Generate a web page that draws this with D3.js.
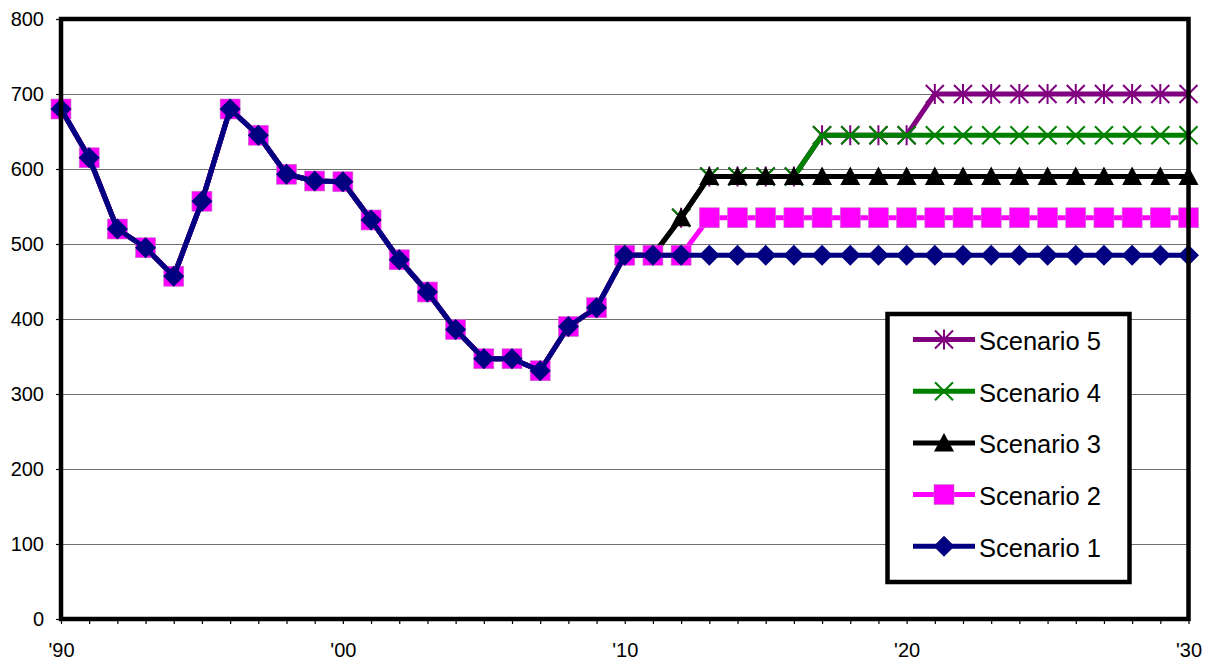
<!DOCTYPE html>
<html>
<head>
<meta charset="utf-8">
<script src="https://cdn.jsdelivr.net/npm/d3@7"></script>
<style>
  html, body { margin: 0; padding: 0; background: #fff; }
  svg { display: block; font-family: "Liberation Sans", Arial, sans-serif; }
</style>
</head>
<body>
<svg id="chart" width="1211" height="663"></svg>
<script>
// Years on the category axis
const years = [1990,1991,1992,1993,1994,1995,1996,1997,1998,1999,
               2000,2001,2002,2003,2004,2005,2006,2007,2008,2009,
               2010,2011,2012,2013,2014,2015,2016,2017,2018,2019,
               2020,2021,2022,2023,2024,2025,2026,2027,2028,2029,2030];

// Shared history 1990-2011
const history = [680,615,520,495,457,557,680,645,593,584,
                 583,532,479,436,386,347,347,331,390,415,
                 485,485];

// Projections 2012-2030 for each scenario
const proj1 = [485,485,485,485,485,485,485,485,485,485,485,485,485,485,485,485,485,485,485];
const proj2 = [485,535,535,535,535,535,535,535,535,535,535,535,535,535,535,535,535,535,535];
const proj3 = [535,590,590,590,590,590,590,590,590,590,590,590,590,590,590,590,590,590,590];
const proj4 = [535,590,590,590,590,645,645,645,645,645,645,645,645,645,645,645,645,645,645];
const proj5 = [535,590,590,590,590,645,645,645,645,700,700,700,700,700,700,700,700,700,700];

const seriesNames = ["Scenario 1","Scenario 2","Scenario 3","Scenario 4","Scenario 5"];
const seriesColors = ["#000080","#ff00ff","#000000","#008000","#800080"];
const seriesMarkers = ["diamond","square","triangle","cross","star"];
const seriesValues = [proj1, proj2, proj3, proj4, proj5].map(p => history.concat(p));

const yTicks = [0,100,200,300,400,500,600,700,800];
const xLabels = {1990:"'90", 2000:"'00", 2010:"'10", 2020:"'20", 2030:"'30"};

const svg = d3.select("#chart");
const x = d3.scaleLinear().domain([1990, 2030]).range([61, 1188.5]);
const y = d3.scaleLinear().domain([0, 800]).range([619, 19]);

// Horizontal gridlines
svg.append("g").selectAll("line")
  .data(yTicks.filter(v => v > 0 && v < 800))
  .join("line")
  .attr("x1", x(1990)).attr("x2", x(2030))
  .attr("y1", d => Math.round(y(d)) + 0.5).attr("y2", d => Math.round(y(d)) + 0.5)
  .attr("stroke", "#707070").attr("stroke-width", 1);

// Axes
const yAxis = svg.append("g")
  .attr("transform", `translate(${x(1990)},0)`)
  .call(d3.axisLeft(y).tickValues(yTicks).tickSize(5).tickPadding(12).tickFormat(d3.format("d")));
const xAxis = svg.append("g")
  .attr("transform", `translate(0,${y(0)})`)
  .call(d3.axisBottom(x).tickValues(years).tickSize(5).tickPadding(19)
        .tickFormat(d => xLabels[d] || ""));
[yAxis, xAxis].forEach(a => {
  a.select(".domain").remove();
  a.attr("font-size", 20).attr("font-family", "'Liberation Sans', Arial, sans-serif");
  a.selectAll(".tick line").attr("stroke", "#000").attr("stroke-width", 1.2);
  a.selectAll(".tick text").attr("fill", "#000");
});

// Marker shapes
function drawMarker(g, type, color) {
  if (type === "diamond") {
    g.append("path").attr("d", "M0,-10.5L10.5,0L0,10.5L-10.5,0Z").attr("fill", color);
  } else if (type === "square") {
    g.append("rect").attr("x", -10).attr("y", -10).attr("width", 20).attr("height", 20)
      .attr("fill", color).attr("stroke", "#c080c0").attr("stroke-width", 0.6);
  } else if (type === "triangle") {
    g.append("path").attr("d", "M0,-10L10,8.5L-10,8.5Z").attr("fill", color);
  } else if (type === "cross") {
    g.append("path").attr("d", "M-9,-9L9,9M-9,9L9,-9")
      .attr("stroke", color).attr("stroke-width", 2).attr("fill", "none");
  } else if (type === "star") {
    g.append("path").attr("d", "M-9,-9L9,9M-9,9L9,-9M0,-10L0,10")
      .attr("stroke", color).attr("stroke-width", 2).attr("fill", "none");
  }
}

const line = d3.line().x((d, i) => x(years[i])).y(d => y(d));

// Draw Scenario 5 first so Scenario 1 ends up on top
const plot = svg.append("g");
for (let s = 4; s >= 0; s--) {
  const g = plot.append("g");
  g.append("path").datum(seriesValues[s])
    .attr("d", line)
    .attr("fill", "none")
    .attr("stroke", seriesColors[s])
    .attr("stroke-width", 5)
    .attr("stroke-linejoin", "round");
  g.selectAll("g.m").data(seriesValues[s]).join("g")
    .attr("class", "m")
    .attr("transform", (d, i) => `translate(${x(years[i])},${y(d)})`)
    .each(function() { drawMarker(d3.select(this), seriesMarkers[s], seriesColors[s]); });
}

// Plot frame
svg.append("rect")
  .attr("x", x(1990)).attr("y", y(800))
  .attr("width", x(2030) - x(1990)).attr("height", y(0) - y(800))
  .attr("fill", "none").attr("stroke", "#000").attr("stroke-width", 4.5);

// Legend
const legend = svg.append("g");
legend.append("rect")
  .attr("x", 887.5).attr("y", 314).attr("width", 242).attr("height", 268)
  .attr("fill", "#fff").attr("stroke", "#000").attr("stroke-width", 4.5);
const order = [4,3,2,1,0];
order.forEach((s, k) => {
  const ly = 339.5 + k * 51.7;
  const item = legend.append("g");
  item.append("line").attr("x1", 913).attr("x2", 975).attr("y1", ly).attr("y2", ly)
    .attr("stroke", seriesColors[s]).attr("stroke-width", 5);
  drawMarker(item.append("g").attr("transform", `translate(944,${ly})`), seriesMarkers[s], seriesColors[s]);
  item.append("text").attr("x", 979).attr("y", ly + 10.5)
    .style("font-size", "25.5px").attr("fill", "#000")
    .text(seriesNames[s]);
});
</script>
</body>
</html>
